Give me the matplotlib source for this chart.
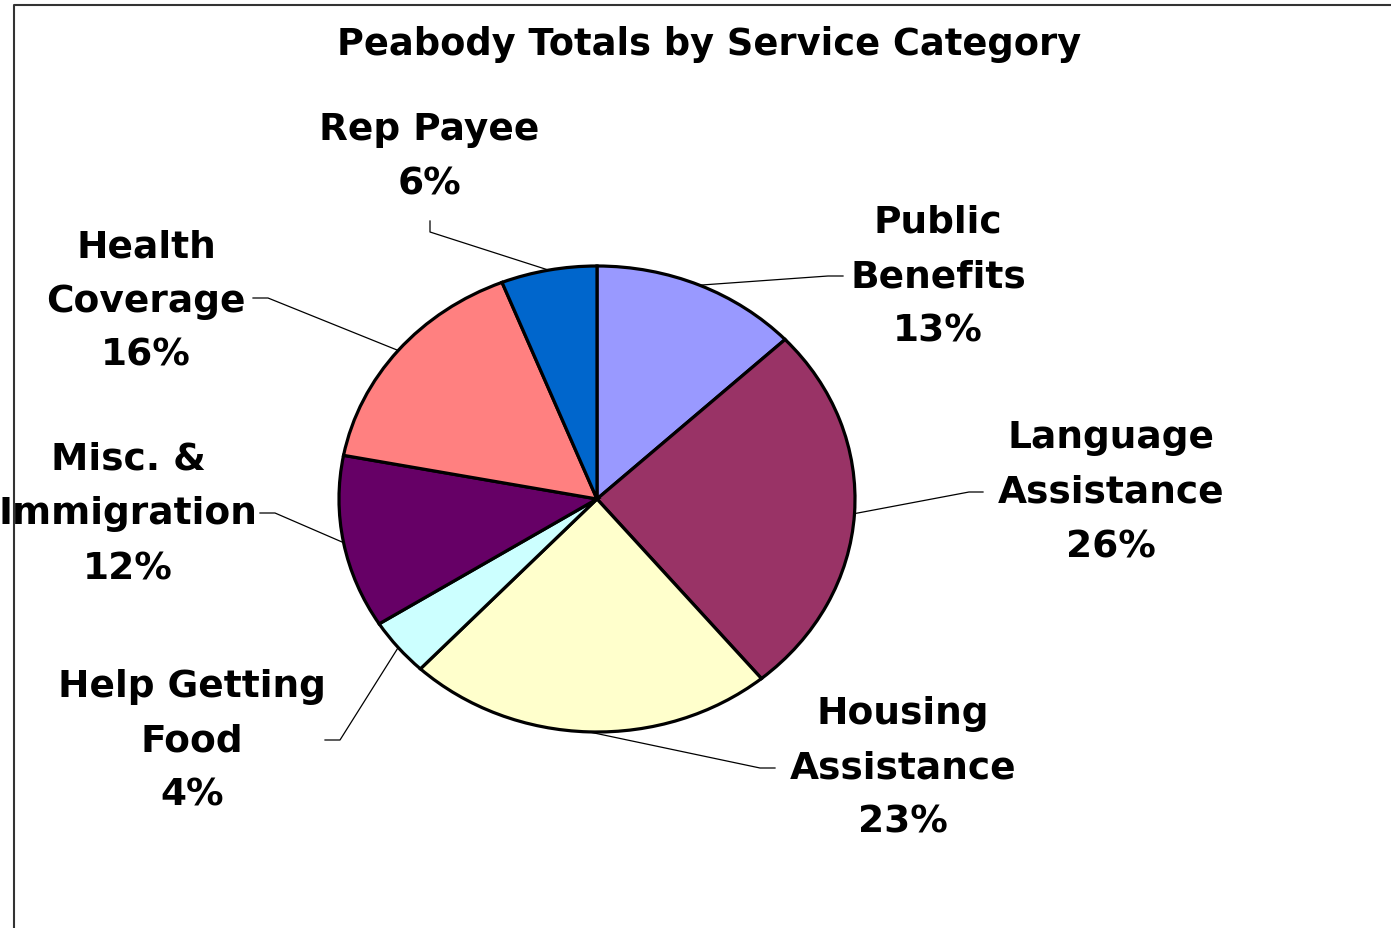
import numpy as np
import matplotlib.pyplot as plt
from matplotlib.lines import Line2D

plt.rcParams['font.family'] = ['DejaVu Sans']

categories = ['Public\nBenefits', 'Language\nAssistance', 'Housing\nAssistance',
              'Help Getting\nFood', 'Misc. &\nImmigration', 'Health\nCoverage', 'Rep Payee']
shares = [13, 26, 23, 4, 12, 16, 6]
colors = ['#9999FF', '#993366', '#FFFFCC', '#CCFFFF', '#660066', '#FF8080', '#0066CC']

# pie geometry in pixels (slightly squashed, like the original)
CX, CY, RX, RY = 597, 500, 258, 233
W, H = 1391, 929
LINE_GAP = 54.5


def px(x, y):
    return ((x - CX) / RX, (CY - y) / RY)


# label centre x and first-line baseline, leader-line elbows (pixels)
label_pos = [(938, 233), (1111, 448), (903, 724), (192, 697), (128, 470), (146, 257), (429, 140)]
elbows = [[(828, 277), (843, 277)],
          [(969, 493), (983, 493)],
          [(760, 769), (775, 769)],
          [(340, 741), (325, 741)],
          [(275, 514), (260, 514)],
          [(268, 299), (253, 299)],
          [(430, 233), (430, 222)]]

fig = plt.figure(figsize=(W / 100, H / 100), dpi=100)
ax = fig.add_axes([0, 0, 1, 1])

wedges, _ = ax.pie(shares, colors=colors, startangle=90, counterclock=False,
                   radius=1, wedgeprops=dict(edgecolor='black', linewidth=2.3))
ax.set_aspect('auto')
ax.set_xlim(px(0, 0)[0], px(W, 0)[0])
ax.set_ylim(px(0, H)[1], px(0, 0)[1])
ax.axis('off')

total = sum(shares)
cum = 0
for i, (name, v) in enumerate(zip(categories, shares)):
    mid = np.deg2rad(90 - 360 * (cum + v / 2) / total)
    cum += v
    x0, y0 = np.cos(mid), np.sin(mid)
    pts = [(x0, y0)] + [px(*p) for p in elbows[i]]
    xs, ys = zip(*pts)
    ax.plot(xs, ys, color='black', lw=0.9)
    lx, ly = label_pos[i]
    for k, line in enumerate(f'{name}\n{v}%'.split('\n')):
        ax.text(*px(lx, ly + k * LINE_GAP), line, ha='center', va='baseline',
                fontsize=27, fontweight='bold')

ax.text(*px(709, 55), 'Peabody Totals by Service Category', ha='center', va='baseline',
        fontsize=26.5, fontweight='bold')

# chart border (cropped: only left and top edges visible)
fig.add_artist(Line2D([14 / W, 14 / W, 1], [0, 1 - 6 / H, 1 - 6 / H],
                      color='#333333', lw=1.5, transform=fig.transFigure))

fig.savefig('out.png', dpi=100)
